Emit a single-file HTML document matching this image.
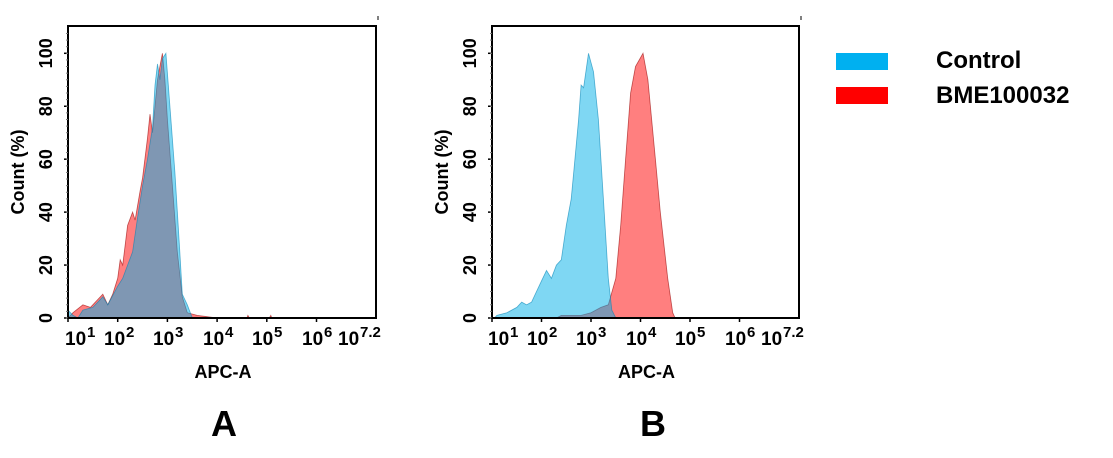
<!DOCTYPE html>
<html><head><meta charset="utf-8"><style>
body{margin:0;background:#fff;}
svg text{font-family:"Liberation Sans",Arial,sans-serif;font-weight:bold;fill:#000;}
</style></head><body>
<svg id="s" width="1113" height="453" viewBox="0 0 1113 453" xmlns="http://www.w3.org/2000/svg">
<g id="A"></g><g id="B"></g>
<rect x="836" y="53" width="52" height="17" fill="#00b0f0"/>
<rect x="836" y="87" width="52" height="17" fill="#ff0000"/>
<text x="936" y="68" font-size="24">Control</text>
<text x="936" y="103" font-size="24">BME100032</text>
<text x="224" y="436" font-size="36" text-anchor="middle">A</text>
<text x="653" y="436" font-size="36" text-anchor="middle">B</text>
</svg>
<script>
const NS="http://www.w3.org/2000/svg";
function el(g,t,a,txt){const e=document.createElementNS(NS,t);for(const k in a)e.setAttribute(k,a[k]);if(txt!==undefined)e.textContent=txt;g.appendChild(e);return e;}
function panel(id,L,R,T,B,dec,off,red,blue){
 const g=document.getElementById(id);
 const X=v=>L+(v-1)*dec, Y=p=>B-p*2.647;
 const path=pts=>"M"+X(pts[0][0])+","+B+" "+pts.map(p=>"L"+X(p[0]).toFixed(1)+","+Y(p[1]).toFixed(1)).join(" ")+" L"+X(pts[pts.length-1][0])+","+B+"Z";
 el(g,"path",{d:path(red),fill:"rgba(255,0,0,0.5)",stroke:"rgba(150,0,0,0.6)","stroke-width":0.8});
 el(g,"path",{d:path(blue),fill:"rgba(0,176,232,0.5)",stroke:"rgba(0,130,180,0.6)","stroke-width":0.8});
 el(g,"rect",{x:L,y:T,width:R-L,height:B-T,fill:"none",stroke:"#000","stroke-width":2});
 for(let v=0;v<=100;v+=20){const y=Y(v);el(g,"line",{x1:L-4,x2:L,y1:y,y2:y,stroke:"#000","stroke-width":1.5});
  el(g,"text",{x:0,y:0,"font-size":18,"text-anchor":"middle",transform:`translate(${L-16},${y}) rotate(-90)`},String(v));}
 for(let v=0;v<108;v+=2.5){const y=Y(v);el(g,"line",{x1:L-2,x2:L,y1:y,y2:y,stroke:"#777","stroke-width":1});}
 [1,2,3,4,5,6].forEach(e=>{const x=X(e);el(g,"line",{x1:x,x2:x,y1:B,y2:B+4,stroke:"#000","stroke-width":1.5});});
 const xs=[65,104,153,203,252,302,338], ex=["1","2","3","4","5","6","7.2"];
 xs.forEach((x0,i)=>{const x=x0+off;
  el(g,"text",{x:x,y:B+27,"font-size":19},"10");
  el(g,"text",{x:x+22,y:B+19,"font-size":15},ex[i]);});
 el(g,"text",{x:(L+R)/2+1,y:B+60,"font-size":18,"text-anchor":"middle"},"APC-A");
 el(g,"text",{x:0,y:0,"font-size":18,"text-anchor":"middle",transform:`translate(${L-44},172) rotate(-90)`},"Count  (%)");
 el(g,"line",{x1:R+2,x2:R+2,y1:16,y2:20,stroke:"#000","stroke-width":1});
}
panel("A",68,376,26,318,49.7,0,
[[1,0],[1.1,2],[1.3,5],[1.45,4],[1.6,7],[1.7,9],[1.8,5],[1.9,9],[2.0,15],[2.05,22],[2.1,20],[2.2,35],[2.3,40],[2.35,37],[2.45,48],[2.5,53],[2.6,68],[2.65,77],[2.7,70],[2.8,90],[2.85,95],[2.9,100],[2.95,90],[3.0,75],[3.1,50],[3.2,25],[3.3,8],[3.4,2],[3.6,1],[3.8,0.5],[4,0],[4.6,0],[4.62,1],[4.65,0],[5.05,0],[5.08,1],[5.1,0]],
[[1,3],[1.1,1],[1.2,0],[1.3,3],[1.5,4],[1.7,8],[1.8,5],[2.0,12],[2.1,15],[2.2,20],[2.3,25],[2.4,38],[2.5,50],[2.6,60],[2.7,72],[2.75,88],[2.8,96],[2.85,90],[2.9,98],[2.97,100],[3.05,80],[3.15,55],[3.25,25],[3.3,9],[3.4,5],[3.5,0]]);
panel("B",492,799,26,318,49.5,423,
[[2.3,0],[2.4,1],[2.6,1],[2.8,1],[3.0,2],[3.2,4],[3.35,5],[3.5,15],[3.6,35],[3.7,60],[3.8,85],[3.9,95],[4.05,100],[4.15,90],[4.3,60],[4.4,40],[4.55,15],[4.65,2],[4.7,0]],
[[1.05,0],[1.1,1],[1.3,2],[1.5,4],[1.6,6],[1.7,5],[1.8,6],[1.9,10],[2.0,14],[2.1,18],[2.2,15],[2.3,20],[2.4,22],[2.5,35],[2.6,45],[2.65,55],[2.75,75],[2.8,88],[2.85,87],[2.95,100],[3.05,93],[3.15,75],[3.25,45],[3.35,15],[3.42,3],[3.5,0]]);
</script>
</body></html>
